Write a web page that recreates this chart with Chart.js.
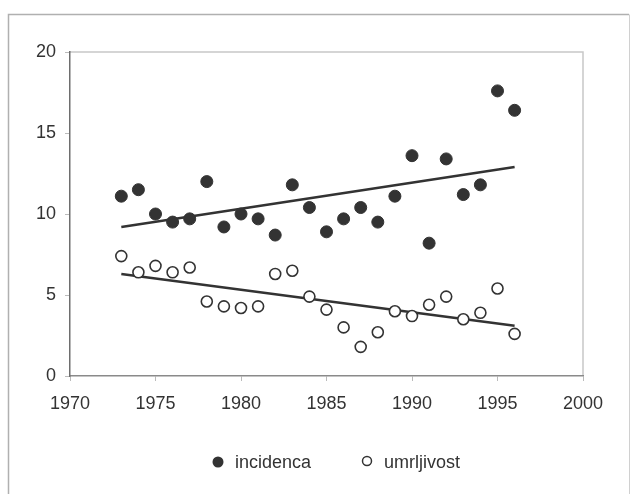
<!DOCTYPE html>
<html>
<head>
<meta charset="utf-8">
<script src="https://cdn.jsdelivr.net/npm/chart.js@4/dist/chart.umd.min.js"></script>
<style>
  html, body { margin: 0; padding: 0; background: #fff; }
  #wrap { width: 630px; height: 494px; position: relative; }
</style>
</head>
<body>
<div id="wrap"><canvas id="c" width="630" height="494"></canvas></div>
<script>
const years = [1973, 1974, 1975, 1976, 1977, 1978, 1979, 1980, 1981, 1982, 1983, 1984,
               1985, 1986, 1987, 1988, 1989, 1990, 1991, 1992, 1993, 1994, 1995, 1996];
const incidenca = [11.1, 11.5, 10.0, 9.5, 9.7, 12.0, 9.2, 10.0, 9.7, 8.7, 11.8, 10.4,
                   8.9, 9.7, 10.4, 9.5, 11.1, 13.6, 8.2, 13.4, 11.2, 11.8, 17.6, 16.4];
const umrljivost = [7.4, 6.4, 6.8, 6.4, 6.7, 4.6, 4.3, 4.2, 4.3, 6.3, 6.5, 4.9,
                    4.1, 3.0, 1.8, 2.7, 4.0, 3.7, 4.4, 4.9, 3.5, 3.9, 5.4, 2.6];
const trendYears = [1973, 1996];
const trendIncidenca = [9.2, 12.9];
const trendUmrljivost = [6.3, 3.1];
const seriesNames = ['incidenca', 'umrljivost'];
const xTicks = [1970, 1975, 1980, 1985, 1990, 1995, 2000];
const yTicks = [0, 5, 10, 15, 20];

const FONT = '"Liberation Sans", Arial, sans-serif';
const TXT = '#333333';
const DARK = '#333333';

const pts = (xs, ys) => xs.map((x, i) => ({ x: x, y: ys[i] }));

const framePlugin = {
  id: 'frame',
  beforeDraw(chart) {
    const ctx = chart.ctx;
    ctx.save();
    ctx.fillStyle = '#fff';
    ctx.fillRect(0, 0, chart.width, chart.height);
    ctx.strokeStyle = '#b0b0b0';
    ctx.lineWidth = 1.5;
    ctx.beginPath();
    ctx.moveTo(8.5, 500);
    ctx.lineTo(8.5, 14.5);
    ctx.lineTo(629, 14.5);
    ctx.stroke();
    ctx.strokeStyle = '#d0d0d0';
    ctx.lineWidth = 1;
    ctx.beginPath();
    ctx.moveTo(629.5, 14.5);
    ctx.lineTo(629.5, 500);
    ctx.stroke();
    const a = chart.chartArea;
    ctx.strokeStyle = '#c8c8c8';
    ctx.lineWidth = 1.5;
    ctx.beginPath();
    ctx.moveTo(a.left, a.top);
    ctx.lineTo(a.right, a.top);
    ctx.lineTo(a.right, a.bottom);
    ctx.stroke();
    ctx.restore();
  },
  afterDraw(chart) {
    const ctx = chart.ctx;
    ctx.save();
    ctx.font = '18px ' + FONT;
    ctx.fillStyle = TXT;
    ctx.textBaseline = 'alphabetic';
    ctx.textAlign = 'left';
    // filled marker
    ctx.beginPath();
    ctx.arc(218, 462, 5.5, 0, Math.PI * 2);
    ctx.fillStyle = DARK;
    ctx.fill();
    ctx.fillStyle = TXT;
    ctx.fillText(seriesNames[0], 235, 468);
    // open marker
    ctx.beginPath();
    ctx.arc(367, 461, 4.5, 0, Math.PI * 2);
    ctx.fillStyle = '#fff';
    ctx.fill();
    ctx.strokeStyle = DARK;
    ctx.lineWidth = 1.5;
    ctx.stroke();
    ctx.fillStyle = TXT;
    ctx.fillText(seriesNames[1], 384, 468);
    ctx.restore();
  }
};

new Chart(document.getElementById('c'), {
  type: 'scatter',
  data: {
    datasets: [
      {
        label: seriesNames[0],
        data: pts(years, incidenca),
        pointRadius: 6,
        pointBackgroundColor: DARK,
        pointBorderColor: DARK,
        pointBorderWidth: 1,
        showLine: false,
        order: 1
      },
      {
        label: seriesNames[1],
        data: pts(years, umrljivost),
        pointRadius: 5.5,
        pointBackgroundColor: '#ffffff',
        pointBorderColor: DARK,
        pointBorderWidth: 1.6,
        showLine: false,
        order: 1
      },
      {
        label: 'trend1',
        data: pts(trendYears, trendIncidenca),
        showLine: true,
        borderColor: DARK,
        borderWidth: 2.5,
        pointRadius: 0,
        order: 2
      },
      {
        label: 'trend2',
        data: pts(trendYears, trendUmrljivost),
        showLine: true,
        borderColor: DARK,
        borderWidth: 2.5,
        pointRadius: 0,
        order: 2
      }
    ]
  },
  options: {
    responsive: false,
    animation: false,
    layout: { padding: { left: 0, top: 52, right: 47, bottom: 0 } },
    plugins: {
      legend: { display: false },
      tooltip: { enabled: false }
    },
    scales: {
      x: {
        type: 'linear',
        min: 1970,
        max: 2000,
        afterBuildTicks(scale) { scale.ticks = xTicks.map(v => ({ value: v })); },
        afterFit(scale) { scale.height = 118; },
        ticks: {
          color: TXT,
          font: { family: FONT, size: 18 },
          padding: 12,
          maxRotation: 0,
          callback: v => String(v)
        },
        grid: { display: true, drawOnChartArea: false, drawTicks: true, tickLength: 5, color: '#bbbbbb' },
        border: { display: true, color: '#8a8a8a', width: 1.5 }
      },
      y: {
        type: 'linear',
        min: 0,
        max: 20,
        afterBuildTicks(scale) { scale.ticks = yTicks.map(v => ({ value: v })); },
        afterFit(scale) { scale.width = 70; },
        ticks: {
          color: TXT,
          font: { family: FONT, size: 18 },
          padding: 9,
          callback: v => String(v)
        },
        grid: { display: true, drawOnChartArea: false, drawTicks: true, tickLength: 5, color: '#bbbbbb' },
        border: { display: true, color: '#6e6e6e', width: 1.5 }
      }
    }
  },
  plugins: [framePlugin]
});
</script>
</body>
</html>
